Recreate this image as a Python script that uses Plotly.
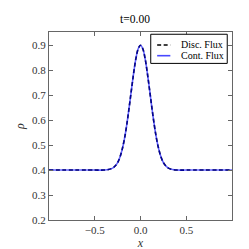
import plotly.graph_objects as go

x_vals = [-1.0, -0.5, -0.4, -0.35, -0.3, -0.275, -0.25, -0.225, -0.2, -0.175, -0.15, -0.125, -0.1, -0.075, -0.05, -0.025,
          0.0, 0.025, 0.05, 0.075, 0.1, 0.125, 0.15, 0.175, 0.2, 0.225, 0.25, 0.275, 0.3, 0.35, 0.4, 0.5, 1.0]
rho_disc = [0.4, 0.4, 0.4, 0.402, 0.409, 0.417, 0.430, 0.451, 0.483, 0.526, 0.582, 0.648, 0.719, 0.788, 0.847, 0.886,
            0.9, 0.886, 0.847, 0.788, 0.719, 0.648, 0.582, 0.526, 0.483, 0.451, 0.430, 0.417, 0.409, 0.402, 0.4, 0.4, 0.4]
rho_cont = list(rho_disc)

series_names = ["Disc. Flux", "Cont. Flux"]
y_ticks = [0.2, 0.3, 0.4, 0.5, 0.6, 0.7, 0.8, 0.9]
x_ticks = [-0.5, 0.0, 0.5]

font_family = "Liberation Serif"
disc_line = dict(color="black", width=1.6, dash="4px,2.5px")
cont_line = dict(color="rgba(0,0,255,0.6)", width=1.6)

fig = go.Figure()
fig.add_trace(go.Scatter(x=x_vals, y=rho_disc, mode="lines", name=series_names[0],
                         line=dict(shape="spline", **disc_line), showlegend=False))
fig.add_trace(go.Scatter(x=x_vals, y=rho_cont, mode="lines", name=series_names[1],
                         line=dict(shape="spline", **cont_line), showlegend=False))

axis_common = dict(showline=True, linecolor="#666666", linewidth=1, mirror="ticks",
                   ticks="inside", ticklen=4, tickcolor="#666666", showgrid=False, zeroline=False,
                   tickfont=dict(family=font_family, size=11, color="#333333"))

# compact legend box (paper coordinates)
L_x0, L_x1, L_y0, L_y1 = 0.556, 0.974, 0.833, 0.988
rows_y = [0.931, 0.874]
samp_x0, samp_x1, text_x = 0.591, 0.663, 0.71
shapes = [dict(type="rect", xref="paper", yref="paper", x0=L_x0, x1=L_x1, y0=L_y0, y1=L_y1,
               line=dict(color="black", width=1), fillcolor="white", layer="above")]
annotations = []
for ry, name, ln in zip(rows_y, series_names, [disc_line, cont_line]):
    lsty = dict(ln)
    if name == "Cont. Flux":
        lsty["color"] = "rgba(40,40,255,0.85)"
    shapes.append(dict(type="line", xref="paper", yref="paper", x0=samp_x0, x1=samp_x1, y0=ry, y1=ry,
                       line=lsty, layer="above"))
    annotations.append(dict(text=name, xref="paper", yref="paper", x=text_x, y=ry, xanchor="left",
                            yanchor="middle", showarrow=False,
                            font=dict(family=font_family, size=10, color="black")))

fig.update_layout(
    width=249, height=249,
    margin=dict(l=31, r=25, t=24, b=26),
    plot_bgcolor="white", paper_bgcolor="white",
    title=dict(text="t=0.00", x=0.51, xanchor="center", y=0.955, yanchor="middle",
               font=dict(family=font_family, size=11.5, color="black")),
    xaxis=dict(range=[-1, 1], tickvals=x_ticks, ticktext=["\u22120.5", "0.0", "0.5"],
               title=dict(text="<i>x</i>", standoff=0, font=dict(family=font_family, size=12, color="#333333")),
               **axis_common),
    yaxis=dict(range=[0.2, 0.953], tickvals=y_ticks, tickformat=".1f",
               title=dict(text="<i>ρ</i>", standoff=4, font=dict(family=font_family, size=12, color="#333333")),
               **axis_common),
    shapes=shapes,
    annotations=annotations,
    showlegend=False,
)

fig.write_html("out.html")
